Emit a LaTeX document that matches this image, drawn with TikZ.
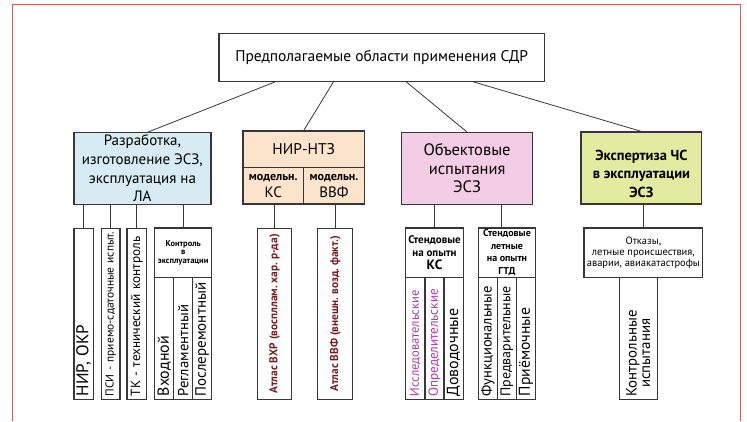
\documentclass[tikz,border=0pt]{standalone}
\usepackage{fontspec}
\setmainfont{PT Sans}
\usepackage{xcolor}
\usepackage{tikz}
\usetikzlibrary{positioning}
\definecolor{frameRed}{RGB}{205,95,85}
\definecolor{boxGray}{RGB}{55,55,55}
\definecolor{fillBlue}{RGB}{214,235,243}
\definecolor{fillBeige}{RGB}{252,228,204}
\definecolor{fillPink}{RGB}{243,205,230}
\definecolor{fillLime}{RGB}{226,236,160}
\definecolor{atlasRed}{RGB}{120,28,30}
\definecolor{testMagenta}{RGB}{178,58,168}
\newcommand{\fsz}[2]{\fontsize{#1}{#2}\selectfont}
\tikzstyle{area} = [rectangle,
draw=boxGray,
line width=1.2pt,
inner sep=0pt,
text centered,
align=center]
\tikzstyle{head} = [rectangle,
draw=boxGray,
line width=1.2pt,
inner sep=0pt,
fill=white,
align=center]
\tikzstyle{leaf} = [rectangle,
draw=boxGray,
line width=1.2pt,
rotate=90,
inner xsep=3pt,
inner ysep=0pt,
align=left]
\tikzstyle{link} = [draw=boxGray, line width=0.8pt]

\begin{document}
\frenchspacing
\begin{tikzpicture}[x=1pt, y=-1pt]

  \useasboundingbox (0,0) rectangle (747,421);
  \draw [frameRed, line width=0.8pt] (12.5,421) -- (12.5,4) -- (740,4) -- (740,421);

  \node (top) [area, minimum width=325.5pt, minimum height=48pt, font=\fsz{15.5}{18}] at (381.7,57.3) {Предполагаемые области применения СДР};

  \node (razrab) [area, fill=fillBlue, minimum width=137pt, minimum height=71.6pt, font=\fsz{15}{18.7}] at (142.4,168.5) {Разработка,\\изготовление ЭСЗ,\\эксплуатация на\\ЛА};
  \node (nirntz) [area, fill=fillBeige, minimum width=121.5pt, minimum height=36.3pt, font=\fsz{15.5}{18}] at (303.75,149.2) {НИР-НТЗ};
  \node (modks) [area, fill=fillBeige, minimum width=60.5pt, minimum height=36.6pt, font=\fsz{15}{17}] at (273.25,185.7) {{\bfseries\fsz{12}{13}модельн.}\\КС};
  \node (modvvf) [area, fill=fillBeige, minimum width=61pt, minimum height=36.6pt, font=\fsz{15}{17}] at (334,185.7) {{\bfseries\fsz{12}{13}модельн.}\\ВВФ};
  \node (obekt) [area, fill=fillPink, minimum width=131pt, minimum height=71.6pt, font=\fsz{16.5}{18.5}] at (467.1,168.5) {Объектовые\\испытания\\ЭСЗ};
  \node (ekspert) [area, fill=fillLime, minimum width=120.8pt, minimum height=72pt, font=\bfseries\fsz{14.5}{18.8}] at (641.4,168) {\rule{0pt}{22pt}Экспертиза ЧС\\в эксплуатации\\ЭСЗ};

  \draw [link] (top.-167.2) -- ([xshift=5.5pt]razrab.north);
  \draw [link] (top.-153.5) -- (nirntz.north);
  \draw [link] (top.-45.8) -- (obekt.north);
  \draw [link] (top.-15.7) -- (ekspert.north);

  \node (nirokr) [leaf, text width=165pt, minimum height=19.3pt, font=\fsz{17}{17}] at (83.7,313.65) {НИР, ОКР};
  \node (psi) [leaf, text width=165pt, minimum height=18.7pt, font=\fsz{11.5}{12}] at (110.7,313.65) {ПСИ - приемо-сдаточные испыт.};
  \node (tk) [leaf, text width=165pt, minimum height=19.7pt, font=\fsz{13.3}{14}] at (136.8,313.65) {ТК - технический контроль};
  \node (kontrol) [head, minimum width=57pt, minimum height=49.3pt, font=\bfseries\fsz{8.5}{8.7}] at (183.2,252.65) {Контроль\\в\\эксплуатации};
  \node (vhod) [leaf, text width=116pt, minimum height=19pt, font=\fsz{16}{16}] at (164.2,338.3) {Входной};
  \node (reglam) [leaf, text width=116pt, minimum height=19pt, font=\fsz{14.7}{15}] at (183.2,338.3) {Регламентный};
  \node (posle) [leaf, text width=116pt, minimum height=19pt, font=\fsz{15}{15}] at (202.2,338.3) {Послеремонтный};

  \draw [link] (razrab.south -| nirokr) -- (nirokr);
  \draw [link] (razrab.south -| psi) -- (psi);
  \draw [link] (razrab.south -| tk) -- (tk);
  \draw [link] (razrab.south -| kontrol) -- (kontrol);

  \node (atlasvhr) [leaf, text width=165pt, align=flush center, minimum height=34.4pt, text=atlasRed, font=\bfseries\fsz{11.3}{12}] at (274.5,313.65) {Атлас ВХР (воспллам. хар. р-да)};
  \node (atlasvvf) [leaf, text width=165pt, align=flush center, minimum height=35pt, text=atlasRed, font=\bfseries\fsz{11.3}{12}] at (335.2,313.65) {Атлас ВВФ (внешн. возд. факт.)};

  \draw [link] (modks.south -| atlasvhr) -- (atlasvhr);
  \draw [link] (modvvf.south -| atlasvvf) -- (atlasvvf);

  \node (standks) [head, minimum width=57.6pt, minimum height=49.3pt, font=\bfseries\fsz{11}{13}] at (434.5,252.65) {Стендовые\\на опытн\\{\fsz{13.5}{13}КС}};
  \node (issl) [leaf, text width=116pt, minimum height=19.3pt, text=testMagenta, font=\fsz{12.6}{13}] at (415.35,338.3) {Исследовательские};
  \node (opred) [leaf, text width=116pt, minimum height=19pt, text=testMagenta, font=\fsz{13.2}{13}] at (434.5,338.3) {Определительские};
  \node (dovod) [leaf, text width=116pt, minimum height=19.3pt, font=\fsz{16}{16}] at (453.65,338.3) {Доводочные};
  \node (standgtd) [head, minimum width=57.4pt, minimum height=49.3pt, font=\bfseries\fsz{10}{12.7}] at (507,252.65) {Стендовые\\летные\\на опытн\\ГТД};
  \node (funk) [leaf, text width=116pt, minimum height=19pt, font=\fsz{14.5}{15}] at (487.8,338.3) {Функциональные};
  \node (pred) [leaf, text width=116pt, minimum height=19pt, font=\fsz{14}{14}] at (506.8,338.3) {Предварительные};
  \node (priem) [leaf, text width=116pt, minimum height=19.4pt, font=\fsz{15.7}{16}] at (526,338.3) {Приёмочные};

  \draw [link] (obekt.south -| standks) -- (standks);
  \draw [link] ([xshift=-6pt]standgtd.north) -- ([xshift=-6pt]standgtd.north |- obekt.south);

  \node (otkazy) [head, minimum width=118.7pt, minimum height=49.3pt, font=\fsz{10.5}{11.2}] at (643.35,252.65) {Отказы,\\летные происшествия,\\аварии, авиакатастрофы};
  \node (kontrisp) [leaf, text width=116pt, minimum height=38pt, font=\fsz{14.9}{15}] at (638.3,338.3) {\shortstack{Контрольные\\испытания}};

  \draw [link] (ekspert.south -| otkazy) -- (otkazy);

\end{tikzpicture}
\end{document}
